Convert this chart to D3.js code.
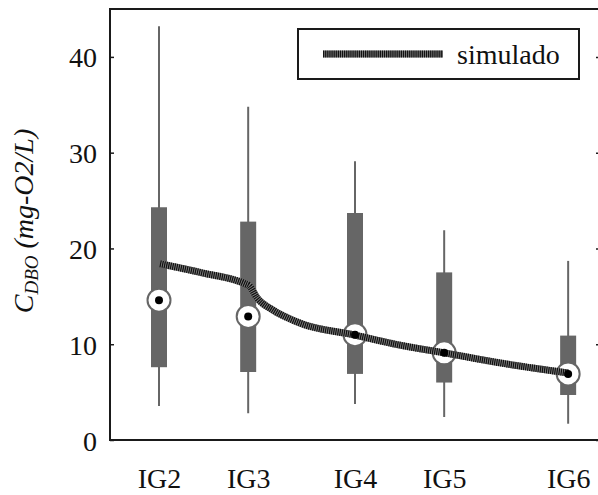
<!DOCTYPE html>
<html>
<head>
<meta charset="utf-8">
<script src="https://cdn.jsdelivr.net/npm/d3@7"></script>
<style>
  html, body { margin: 0; padding: 0; background: #fff; }
  svg { display: block; }
</style>
</head>
<body>
<svg id="chart" width="598" height="495"></svg>
<script>
// ---- data ----
const categories = ["IG2", "IG3", "IG4", "IG5", "IG6"];
const positions = [10, 28.2, 50, 68.2, 93.5];           // position along river (relative units)
const whiskerLow = [3.55, 2.8, 3.75, 2.4, 1.7];
const q1 = [7.6, 7.1, 6.9, 6.0, 4.7];
const medians = [14.6, 12.9, 11.0, 9.1, 6.9];
const q3 = [24.3, 22.8, 23.7, 17.5, 10.9];
const whiskerHigh = [43.2, 34.8, 29.1, 21.9, 18.7];
const simX = [10.2, 18.8, 27.6, 28.4, 30.0, 33.3, 36.7, 38.8, 50.0, 59.2, 68.2, 79.6, 93.5];
const simY = [18.4, 17.45, 16.3, 16.1, 14.85, 13.55, 12.65, 12.2, 10.95, 9.9, 9.1, 8.05, 7.0];
const yTicks = [0, 10, 20, 30, 40];
const legendLabel = "simulado";

// ---- layout ----
const svg = d3.select("#chart");
const L = 110, R = 600, T = 9, B = 440;
const x = d3.scaleLinear().domain([0, 100]).range([L, R]);
const y = d3.scaleLinear().domain([0, 45]).range([B, T]);
const font = "'Liberation Serif', 'Times New Roman', serif";
const gray = "#666666";

// whiskers
svg.append("g").selectAll("line").data(categories).join("line")
  .attr("x1", (d, i) => x(positions[i])).attr("x2", (d, i) => x(positions[i]))
  .attr("y1", (d, i) => y(whiskerLow[i])).attr("y2", (d, i) => y(whiskerHigh[i]))
  .attr("stroke", gray).attr("stroke-width", 2);

// boxes
const bw = 16;
svg.append("g").selectAll("rect").data(categories).join("rect")
  .attr("x", (d, i) => x(positions[i]) - bw / 2)
  .attr("width", bw)
  .attr("y", (d, i) => y(q3[i]))
  .attr("height", (d, i) => y(q1[i]) - y(q3[i]))
  .attr("fill", gray);

// median circles
svg.append("g").selectAll("circle").data(categories).join("circle")
  .attr("cx", (d, i) => x(positions[i]))
  .attr("cy", (d, i) => y(medians[i]))
  .attr("r", 11.5)
  .attr("fill", "#fff").attr("stroke", gray).attr("stroke-width", 2);

// simulated line
const simData = simX.map((v, i) => [v, simY[i]]);
const lineGen = d3.line().x(d => x(d[0])).y(d => y(d[1])).curve(d3.curveMonotoneX);
svg.append("path").datum(simData).attr("d", lineGen)
  .attr("fill", "none").attr("stroke", "#8a8a8a").attr("stroke-width", 7);
svg.append("path").datum(simData).attr("d", lineGen)
  .attr("fill", "none").attr("stroke", "#111").attr("stroke-width", 7)
  .attr("stroke-dasharray", "1.3,0.8");

// median dots
svg.append("g").selectAll("circle").data(categories).join("circle")
  .attr("cx", (d, i) => x(positions[i]))
  .attr("cy", (d, i) => y(medians[i]))
  .attr("r", 4)
  .attr("fill", "#000");

// frame
svg.append("rect").attr("x", L).attr("y", T).attr("width", R - L).attr("height", B - T)
  .attr("fill", "none").attr("stroke", "#1a1a1a").attr("stroke-width", 2);

// y axis (ticks inward)
const yAxis = d3.axisLeft(y).tickValues(yTicks).tickSize(-4).tickPadding(13).tickFormat(d3.format("d"));
const gy = svg.append("g").attr("transform", `translate(${L},0)`).call(yAxis);
gy.select(".domain").remove();
gy.selectAll(".tick line").attr("stroke", "#1a1a1a").attr("stroke-width", 1.5);
gy.selectAll(".tick text").attr("font-family", font).attr("font-size", 28).attr("fill", "#111").attr("dy", "0.36em");

const yAxisR = d3.axisRight(y).tickValues(yTicks).tickSize(-4).tickFormat("");
const gyr = svg.append("g").attr("transform", `translate(${R},0)`).call(yAxisR);
gyr.select(".domain").remove();
gyr.selectAll(".tick line").attr("stroke", "#1a1a1a").attr("stroke-width", 1.5);

// x labels
const xAxis = d3.axisBottom(x).tickValues(positions).tickSize(0).tickPadding(0)
  .tickFormat((d, i) => categories[i]);
const gx = svg.append("g").attr("transform", `translate(0,${B})`).call(xAxis);
gx.select(".domain").remove();
gx.selectAll(".tick text").attr("font-family", font).attr("font-size", 28).attr("fill", "#111")
  .attr("dy", null).attr("y", 48);

// y title
const yt = svg.append("text").attr("transform", "translate(33,221) rotate(-90)")
  .attr("text-anchor", "middle").attr("font-family", font).attr("font-style", "italic")
  .attr("font-size", 28).attr("fill", "#111");
yt.append("tspan").text("C");
yt.append("tspan").attr("font-size", 19).attr("dy", 5).text("DBO");
yt.append("tspan").attr("dy", -5).text(" (mg-O2/L)");

// legend
const lg = svg.append("g");
lg.append("rect").attr("x", 298).attr("y", 29).attr("width", 281).attr("height", 50)
  .attr("fill", "#fff").attr("stroke", "#1a1a1a").attr("stroke-width", 2);
lg.append("line").attr("x1", 323).attr("x2", 443).attr("y1", 54).attr("y2", 54)
  .attr("stroke", "#8a8a8a").attr("stroke-width", 7);
lg.append("line").attr("x1", 323).attr("x2", 443).attr("y1", 54).attr("y2", 54)
  .attr("stroke", "#111").attr("stroke-width", 7).attr("stroke-dasharray", "1.3,0.8");
lg.append("text").attr("x", 457).attr("y", 64).attr("font-family", font).attr("font-size", 28)
  .attr("fill", "#111").text(legendLabel);
</script>
</body>
</html>
